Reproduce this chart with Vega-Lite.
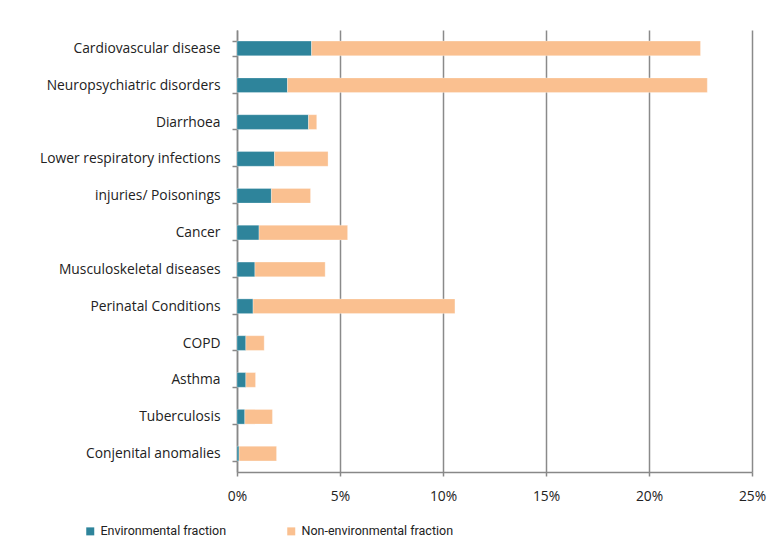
{
  "$schema": "https://vega.github.io/schema/vega-lite/v6.json",
  "autosize": {"type": "none"},
  "padding": {"left": 237, "top": 30, "right": 19, "bottom": 85},
  "width": 515,
  "height": 442,
  "background": "white",
  "config": {
    "view": {"stroke": null},
    "font": "Open Sans",
    "axis": {"labelFont": "Open Sans", "labelFontSize": 13.8, "labelColor": "#222222"},
    "legend": {"labelFont": "Roboto", "labelFontSize": 12.5, "labelColor": "#222222", "labelLimit": 300}
  },
  "data": {
    "values": [
      {"cause": "Cardiovascular disease", "fraction": "Environmental fraction", "order": 1, "value": 0.0362},
      {"cause": "Cardiovascular disease", "fraction": "Non-environmental fraction", "order": 2, "value": 0.1888},
      {"cause": "Neuropsychiatric disorders", "fraction": "Environmental fraction", "order": 1, "value": 0.0245},
      {"cause": "Neuropsychiatric disorders", "fraction": "Non-environmental fraction", "order": 2, "value": 0.2038},
      {"cause": "Diarrhoea", "fraction": "Environmental fraction", "order": 1, "value": 0.0347},
      {"cause": "Diarrhoea", "fraction": "Non-environmental fraction", "order": 2, "value": 0.0040},
      {"cause": "Lower respiratory infections", "fraction": "Environmental fraction", "order": 1, "value": 0.0182},
      {"cause": "Lower respiratory infections", "fraction": "Non-environmental fraction", "order": 2, "value": 0.0260},
      {"cause": "injuries/ Poisonings", "fraction": "Environmental fraction", "order": 1, "value": 0.0167},
      {"cause": "injuries/ Poisonings", "fraction": "Non-environmental fraction", "order": 2, "value": 0.0190},
      {"cause": "Cancer", "fraction": "Environmental fraction", "order": 1, "value": 0.0107},
      {"cause": "Cancer", "fraction": "Non-environmental fraction", "order": 2, "value": 0.0430},
      {"cause": "Musculoskeletal diseases", "fraction": "Environmental fraction", "order": 1, "value": 0.0087},
      {"cause": "Musculoskeletal diseases", "fraction": "Non-environmental fraction", "order": 2, "value": 0.0341},
      {"cause": "Perinatal Conditions", "fraction": "Environmental fraction", "order": 1, "value": 0.0078},
      {"cause": "Perinatal Conditions", "fraction": "Non-environmental fraction", "order": 2, "value": 0.0980},
      {"cause": "COPD", "fraction": "Environmental fraction", "order": 1, "value": 0.0043},
      {"cause": "COPD", "fraction": "Non-environmental fraction", "order": 2, "value": 0.0089},
      {"cause": "Asthma", "fraction": "Environmental fraction", "order": 1, "value": 0.0043},
      {"cause": "Asthma", "fraction": "Non-environmental fraction", "order": 2, "value": 0.0047},
      {"cause": "Tuberculosis", "fraction": "Environmental fraction", "order": 1, "value": 0.0038},
      {"cause": "Tuberculosis", "fraction": "Non-environmental fraction", "order": 2, "value": 0.0134},
      {"cause": "Conjenital anomalies", "fraction": "Environmental fraction", "order": 1, "value": 0.0010},
      {"cause": "Conjenital anomalies", "fraction": "Non-environmental fraction", "order": 2, "value": 0.0182}
    ]
  },
  "mark": {"type": "bar", "stroke": "white", "strokeWidth": 0.5, "strokeOpacity": 0.6},
  "encoding": {
    "y": {
      "field": "cause",
      "type": "nominal",
      "sort": null,
      "title": null,
      "scale": {"paddingInner": 0.6, "paddingOuter": 0.3},
      "axis": {
        "tickBand": "extent",
        "domainColor": "#888888",
        "domainWidth": 1.5,
        "tickColor": "#888888",
        "tickWidth": 1.5,
        "tickSize": 5,
        "labelPadding": 12,
        "labelLimit": 250
      }
    },
    "x": {
      "field": "value",
      "type": "quantitative",
      "stack": "zero",
      "title": null,
      "scale": {"domain": [0, 0.25], "nice": false},
      "axis": {
        "values": [0, 0.05, 0.1, 0.15, 0.2, 0.25],
        "format": ".0%",
        "grid": true,
        "gridColor": "#8a8a8a",
        "gridWidth": 1.5,
        "domainColor": "#888888",
        "domainWidth": 1.5,
        "tickColor": "#888888",
        "tickWidth": 1.5,
        "tickSize": 4,
        "labelPadding": 13,
        "labelFlush": false
      }
    },
    "color": {
      "field": "fraction",
      "type": "nominal",
      "scale": {
        "domain": ["Environmental fraction", "Non-environmental fraction"],
        "range": ["#2e849b", "#fac090"]
      },
      "legend": {
        "title": null,
        "orient": "none",
        "direction": "horizontal",
        "legendX": -153,
        "legendY": 495,
        "symbolType": "square",
        "symbolSize": 64,
        "symbolStrokeWidth": 0,
        "labelOffset": 4,
        "columnPadding": 58
      }
    },
    "order": {"field": "order", "type": "quantitative"}
  }
}
